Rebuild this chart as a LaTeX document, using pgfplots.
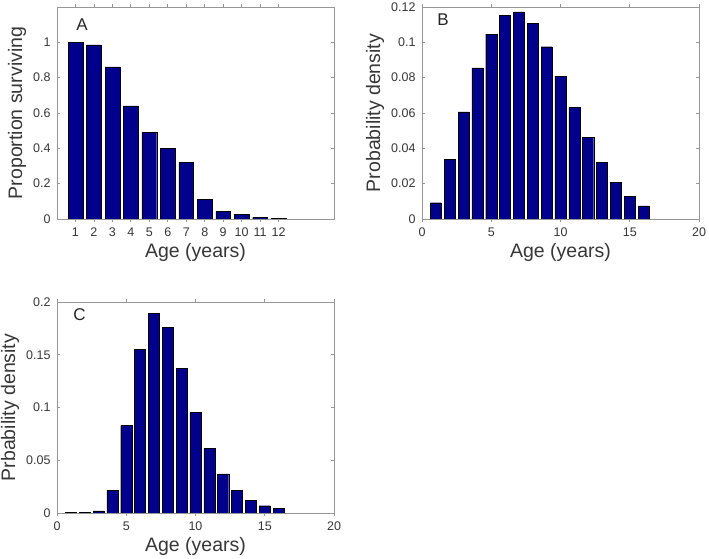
\documentclass[border=0pt]{standalone}
\usepackage{fontspec}
\setmainfont{Liberation Sans}
\usepackage{pgfplots}
\usepackage{pgfplotstable}
\pgfplotsset{compat=1.18}
\definecolor{barblue}{RGB}{0,0,140}
\definecolor{axgray}{RGB}{150,150,150}
\definecolor{txtgray}{RGB}{55,55,55}

\pgfplotstableread{
age val
1 1.000
2 0.985
3 0.861
4 0.640
5 0.492
6 0.401
7 0.320
8 0.111
9 0.043
10 0.028
11 0.009
12 0.003
}\dataA

\pgfplotstableread{
age val
1 0.0092
2 0.0336
3 0.0606
4 0.0855
5 0.1047
6 0.1153
7 0.1172
8 0.1108
9 0.0975
10 0.0808
11 0.0630
12 0.0464
13 0.0320
14 0.0208
15 0.0128
16 0.0074
}\dataB

\pgfplotstableread{
age val
1 0.0005
2 0.0005
3 0.0020
4 0.0214
5 0.0828
6 0.1550
7 0.1890
8 0.1760
9 0.1370
10 0.0954
11 0.0610
12 0.0370
13 0.0217
14 0.0123
15 0.0069
16 0.0041
}\dataC

\pgfplotsset{
  mystyle/.style={
    scale only axis, width=277pt, height=212pt,
    anchor=south west,
    axis line style={axgray, line width=0.8pt},
    tick style={axgray, line width=0.8pt},
    major tick length=3pt,
    tick align=inside,
    ybar, bar width=0.8,
    /pgf/number format/assume math mode=true,
    tick label style={font=\fontsize{12.5}{14}\selectfont, text=txtgray},
    xticklabel style={yshift=-2pt},
    yticklabel style={xshift=-3pt, /pgf/number format/fixed, /pgf/number format/precision=2},
    label style={font=\fontsize{19.5}{22}\selectfont, text=txtgray},
    scaled ticks=false,
    xlabel={Age (years)},
    ymin=0,
  },
  mybar/.style={fill=barblue, draw=black, line width=0.4pt},
}

\begin{document}
\begin{tikzpicture}
\path[use as bounding box] (0,0) rectangle (709pt,559pt);

% Panel A
\begin{axis}[mystyle, at={(57pt,340pt)},
  xmin=0, xmax=15, ymax=1.2,
  xtick={1,2,3,4,5,6,7,8,9,10,11,12},
  ytick={0,0.2,0.4,0.6,0.8,1},
  ylabel={Proportion surviving}]
\addplot[mybar] table[x=age,y=val] {\dataA};
\node[font=\fontsize{17}{17}\selectfont, text=black!85] at (rel axis cs:0.09,0.915) {A};
\end{axis}

% Panel B
\begin{axis}[mystyle, at={(422pt,340pt)},
  xmin=0, xmax=20, ymax=0.12,
  xtick={0,5,10,15,20},
  ytick={0,0.02,0.04,0.06,0.08,0.1,0.12},
  ylabel={Probability density}]
\addplot[mybar] table[x=age,y=val] {\dataB};
\node[font=\fontsize{17}{17}\selectfont, text=black!85] at (rel axis cs:0.076,0.94) {B};
\end{axis}

% Panel C
\begin{axis}[mystyle, at={(57pt,46pt)}, height=211pt,
  xmin=0, xmax=20, ymax=0.2,
  xtick={0,5,10,15,20},
  ytick={0,0.05,0.1,0.15,0.2},
  ylabel={Prbability density}]
\addplot[mybar] table[x=age,y=val] {\dataC};
\node[font=\fontsize{17}{17}\selectfont, text=black!85] at (rel axis cs:0.081,0.94) {C};
\end{axis}
\end{tikzpicture}
\end{document}
